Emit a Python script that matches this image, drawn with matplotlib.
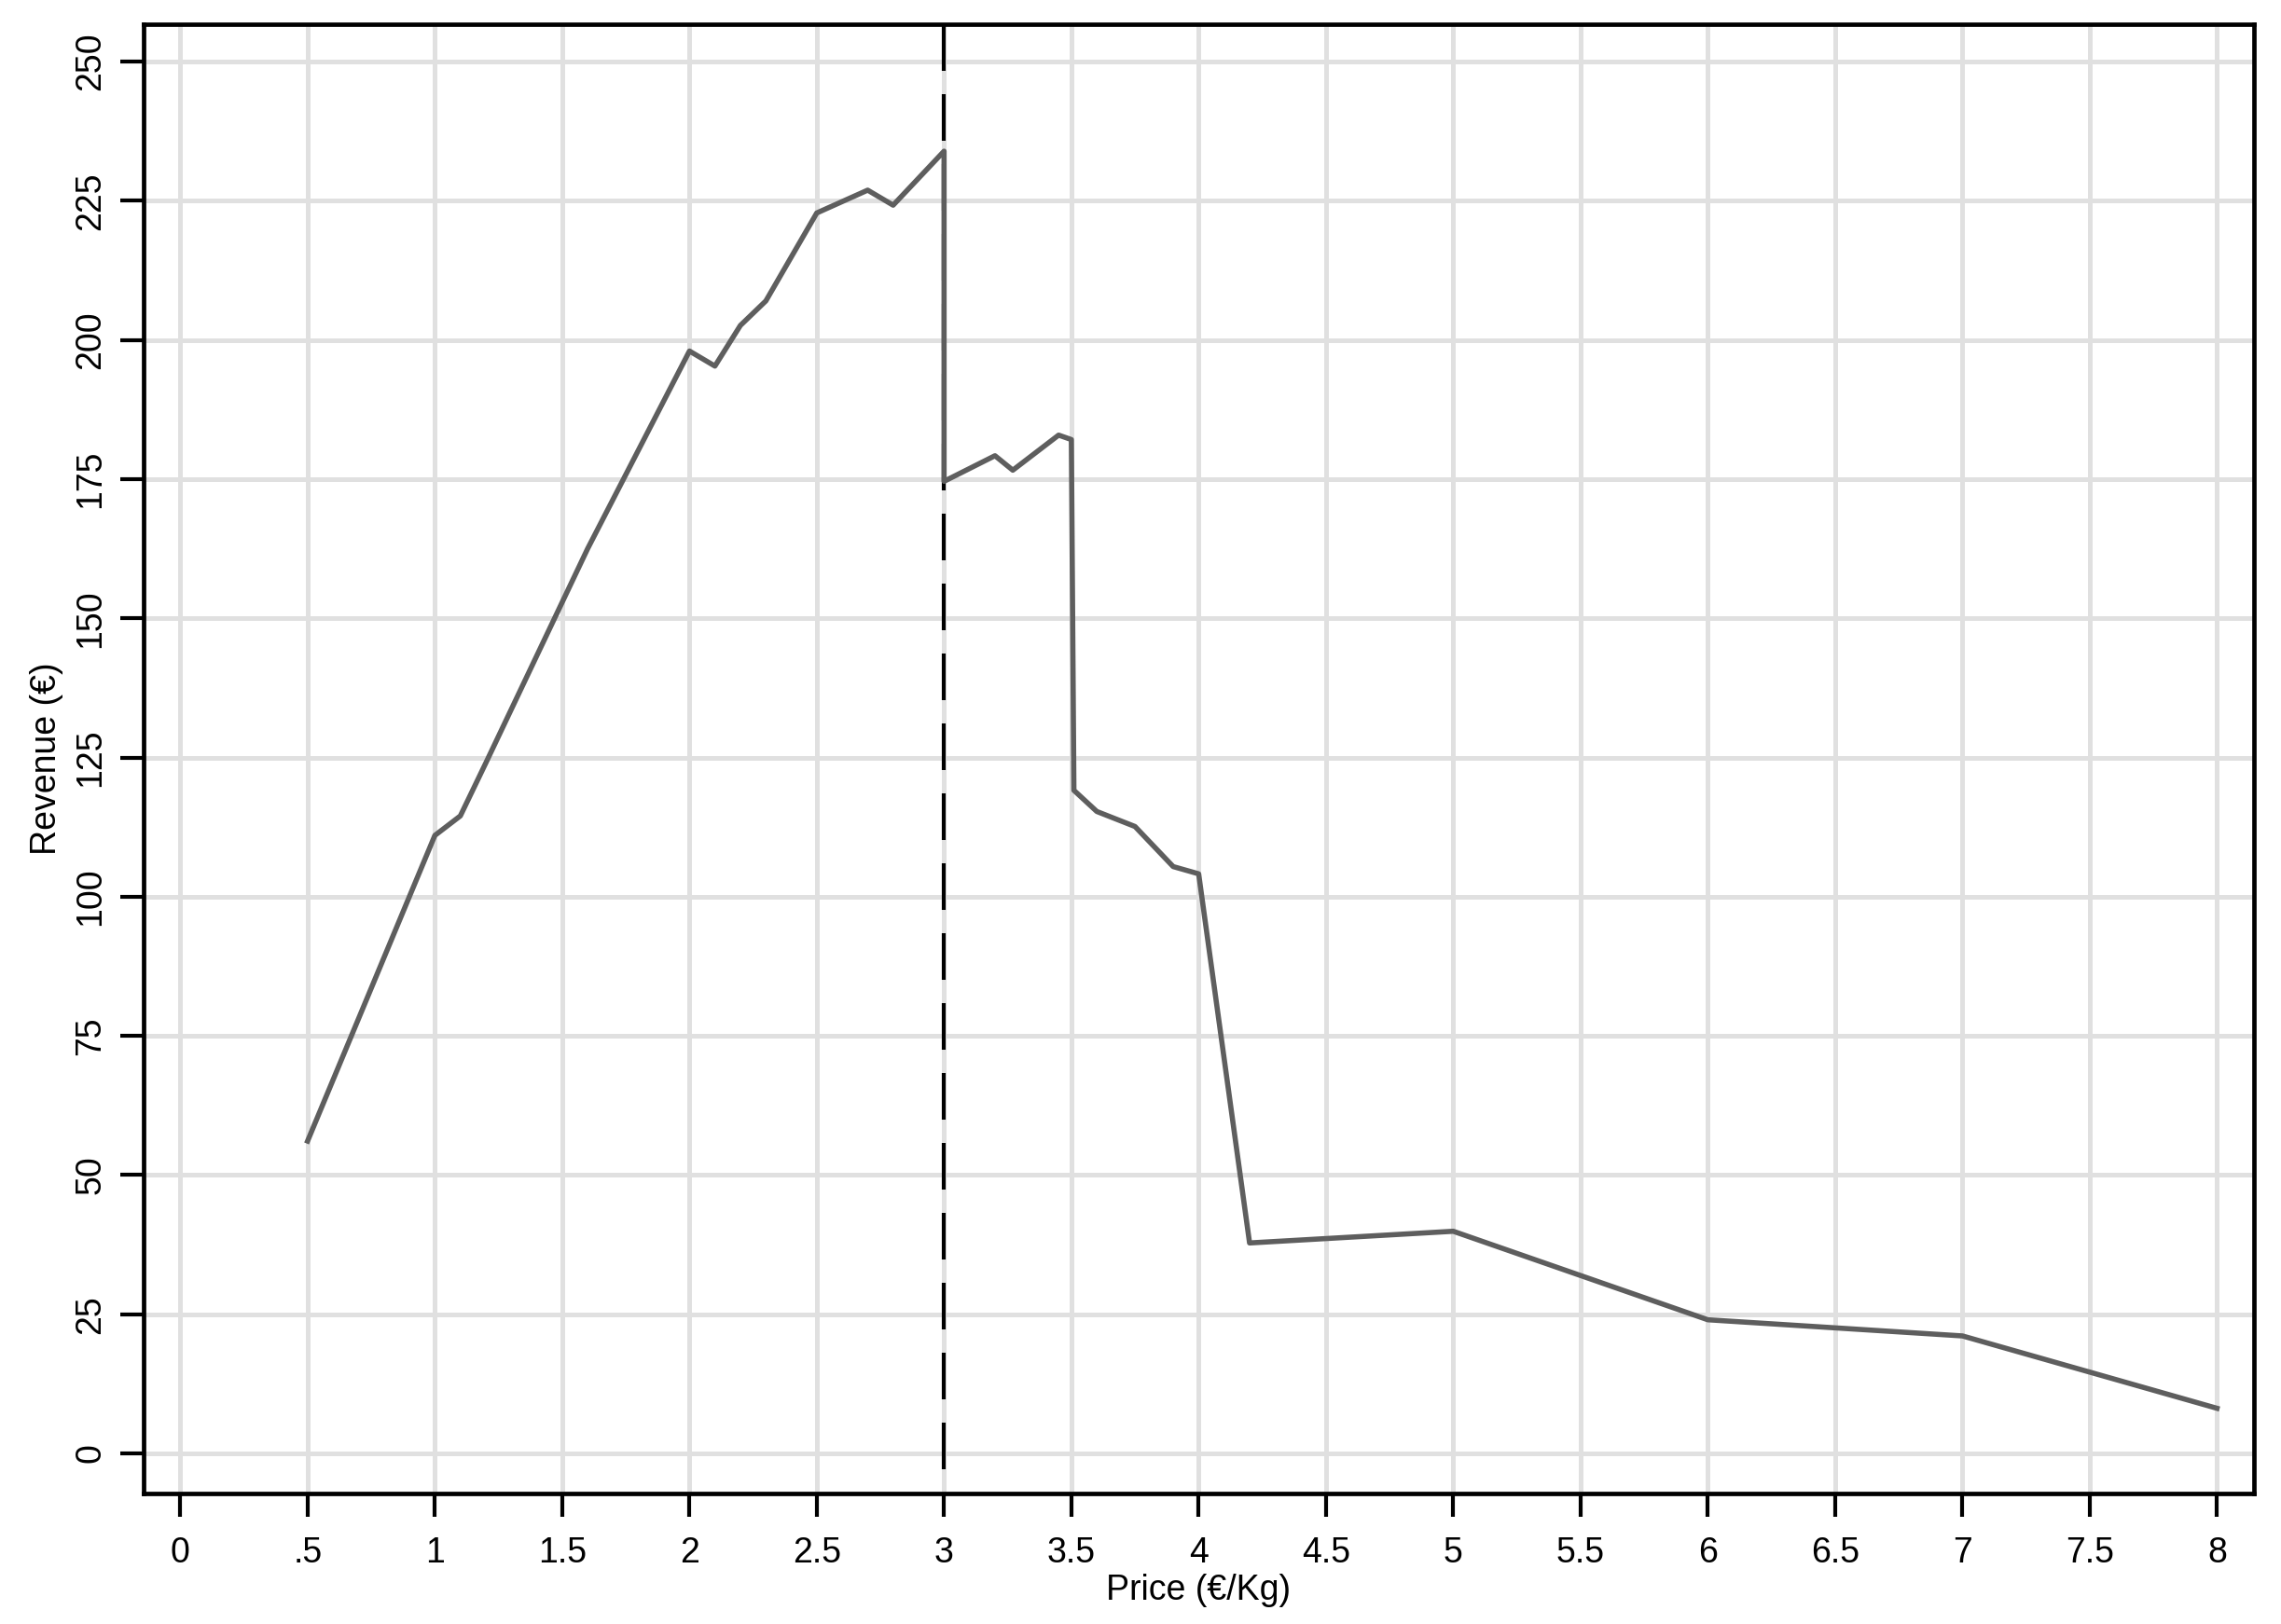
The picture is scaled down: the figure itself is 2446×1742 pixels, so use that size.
import matplotlib
matplotlib.use("Agg")
import matplotlib.pyplot as plt

# revenue by price
price = [0.5, 1.0, 1.1, 1.2, 1.6, 2.0, 2.1, 2.2, 2.3, 2.5, 2.7, 2.8, 3.0,
         3.0, 3.2, 3.27, 3.45, 3.5, 3.51, 3.6, 3.75, 3.9, 4.0, 4.2,
         5.0, 6.0, 7.0, 8.0]
revenue = [56.1, 111.0, 114.5, 124.0, 162.5, 198.0, 195.3, 202.6, 207.0,
           222.8, 226.9, 224.2, 233.9, 174.6, 179.2, 176.6, 182.9, 182.1,
           119.1, 115.3, 112.6, 105.4, 104.1, 37.8, 39.9, 24.0, 21.1, 8.1]

xticks = [0, 0.5, 1, 1.5, 2, 2.5, 3, 3.5, 4, 4.5, 5, 5.5, 6, 6.5, 7, 7.5, 8]
xticklabels = ["0", ".5", "1", "1.5", "2", "2.5", "3", "3.5", "4", "4.5",
               "5", "5.5", "6", "6.5", "7", "7.5", "8"]
yticks = [0, 25, 50, 75, 100, 125, 150, 175, 200, 225, 250]
cutoff_price = 3

plt.rcParams['font.family'] = ['Liberation Sans', 'DejaVu Sans']

fig = plt.figure(figsize=(24.46, 17.42), dpi=100)
ax = fig.add_axes([154 / 2446, 1 - 1602 / 1742, (2417 - 154) / 2446, (1602 - 26) / 1742])

ax.plot(price, revenue, color="#5e5e5e", lw=4.0, zorder=3)
# dashed cutoff line, drawn top to bottom so the dash pattern starts at the top
ax.plot([cutoff_price, cutoff_price], [1, 0], transform=ax.get_xaxis_transform(),
        color="black", lw=3.0, ls=(0, (12, 6)), zorder=2)

ax.set_xlim(-0.144, 8.145)
ax.set_ylim(-7.2, 256.7)
ax.set_xticks(xticks)
ax.set_xticklabels(xticklabels)
ax.set_yticks(yticks)
ax.set_yticklabels([str(v) for v in yticks], rotation=90, va="center")

ax.grid(True, color="#e0e0e0", lw=3.6)
ax.set_axisbelow(True)

for s in ax.spines.values():
    s.set_linewidth(3.4)
    s.set_color("black")

ax.tick_params(axis="both", length=18, width=3.0, labelsize=27, color="black")
ax.tick_params(axis="x", pad=15)
ax.tick_params(axis="y", pad=10)

ax.set_xlabel("Price (€/Kg)", fontsize=27, labelpad=3)
ax.set_ylabel("Revenue (€)", fontsize=27, labelpad=8)

fig.savefig("out.png", dpi=100, facecolor="white")
